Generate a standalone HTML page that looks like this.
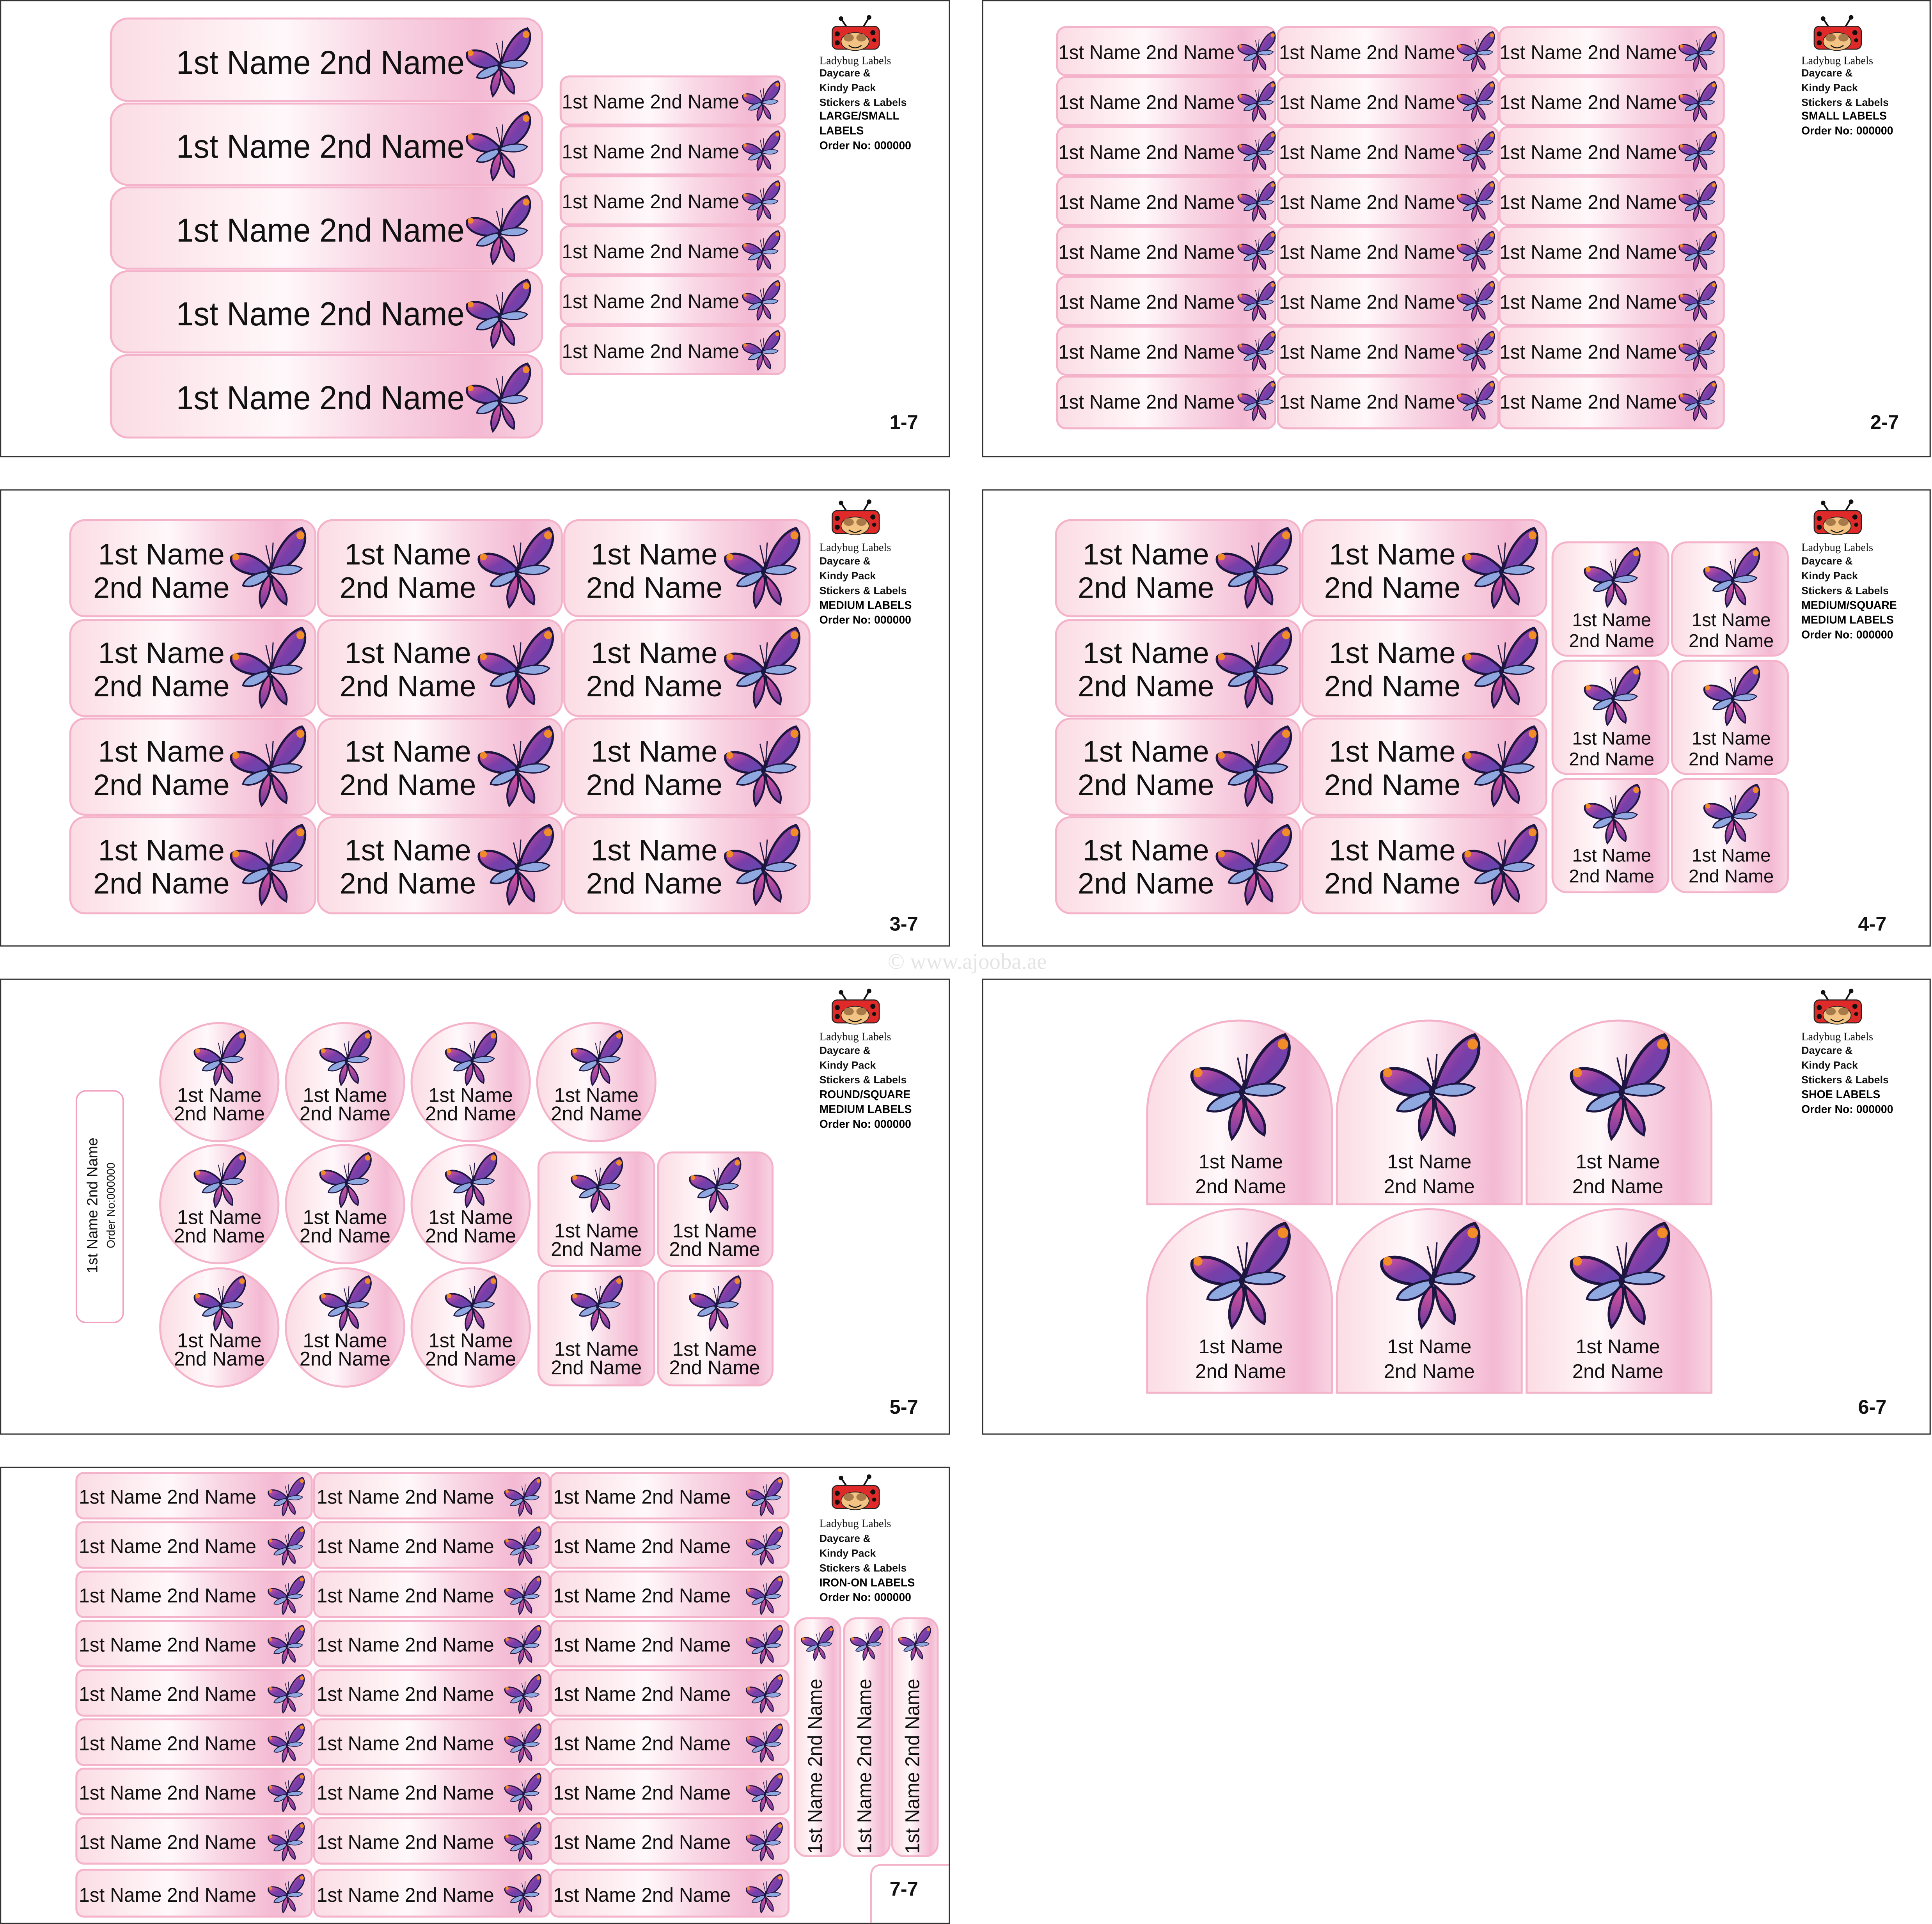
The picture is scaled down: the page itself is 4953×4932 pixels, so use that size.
<!DOCTYPE html>
<html><head><meta charset="utf-8"><style>
html,body{margin:0;padding:0;background:#fff}
svg{display:block}
.n{font-family:"Liberation Sans Narrow","Liberation Sans",sans-serif;fill:#111}
.l{fill:url(#g);stroke:#f4b3ca;stroke-width:1.6}
.lg{font-family:"Liberation Serif",serif;font-size:9px;fill:#111}
.lt{font-family:"Liberation Sans",sans-serif;font-size:8.5px;font-weight:bold;fill:#111}
.lb{font-family:"Liberation Sans",sans-serif;font-size:9px;font-weight:bold;fill:#000}
.pn{font-family:"Liberation Sans",sans-serif;font-size:16px;font-weight:bold;fill:#111}
.p{fill:#fff;stroke:#333;stroke-width:1}
</style></head><body>
<svg width="4953" height="4932" viewBox="0 0 1568 1561" preserveAspectRatio="none" xmlns="http://www.w3.org/2000/svg">
<defs>
<linearGradient id="g" x1="0" y1="0" x2="1" y2="0">
<stop offset="0" stop-color="#fbdce4"/><stop offset="0.4" stop-color="#fff8fa"/><stop offset="0.6" stop-color="#f9d8e5"/><stop offset="0.85" stop-color="#f4b9d3"/><stop offset="1" stop-color="#f8d4e2"/>
</linearGradient>
<linearGradient id="w1" x1="0" y1="0" x2="1" y2="1"><stop offset="0" stop-color="#e0559d"/><stop offset="0.5" stop-color="#7a3ea8"/><stop offset="1" stop-color="#5b4ab2"/></linearGradient>
<linearGradient id="w2" x1="0" y1="0" x2="0" y2="1"><stop offset="0" stop-color="#e0559d"/><stop offset="1" stop-color="#6a3aa0"/></linearGradient>
<symbol id="bf" viewBox="0 0 60 60">
<path d="M33,31 C37,16 46,5 54,3 C59,9 57,24 35,34 Z" fill="url(#w1)" stroke="#1d1640" stroke-width="1.6"/>
<circle cx="53" cy="8" r="2.8" fill="#f28c28"/>
<path d="M31,31 C21,20 9,19 5,23 C3,30 14,37 30,35 Z" fill="url(#w1)" stroke="#1d1640" stroke-width="1.6"/>
<circle cx="8" cy="23" r="2.4" fill="#f28c28"/>
<path d="M32,32 C40,28 50,28 54,31 C50,36 42,36 33,34 Z" fill="#8fa8e0" stroke="#1d1640" stroke-width="0.9"/>
<path d="M30,33 C22,34 14,38 13,43 C20,45 27,41 31,36 Z" fill="#8fa8e0" stroke="#1d1640" stroke-width="1.1"/>
<path d="M31,36 C25,42 23,51 26,58 C31,52 33,44 32,37 Z" fill="url(#w2)" stroke="#1d1640" stroke-width="1.3"/>
<path d="M33,36 C40,42 45,49 43,56 C37,53 34,46 33,37 Z" fill="url(#w2)" stroke="#1d1640" stroke-width="1.3"/>
<path d="M31,37 L33,27" stroke="#1d1640" stroke-width="2"/>
<path d="M32,28 L29,15 M33,28 L34,13" stroke="#1d1640" stroke-width="0.8" fill="none"/>
</symbol>
<symbol id="lb" viewBox="0 0 40 30">
<path d="M14,12 L8,3 M24,12 L30,2" stroke="#111" stroke-width="1.3"/>
<circle cx="8" cy="3" r="1.8" fill="#111"/><circle cx="30" cy="2" r="1.8" fill="#111"/>
<rect x="1" y="9" width="37" height="18" rx="4" fill="#e02a2a" stroke="#222" stroke-width="0.8"/>
<circle cx="5" cy="15" r="2" fill="#111"/><circle cx="5" cy="22" r="2" fill="#111"/><circle cx="33" cy="14" r="2" fill="#111"/><circle cx="34" cy="20" r="1.6" fill="#111"/>
<ellipse cx="19" cy="21" rx="11" ry="7" fill="#f2c383" stroke="#222" stroke-width="0.6"/>
<ellipse cx="14" cy="18" rx="4" ry="3" fill="#a87a4a"/><ellipse cx="24" cy="18" rx="4" ry="3" fill="#a87a4a"/>
<path d="M14,24 Q19,28 24,24" stroke="#111" stroke-width="0.8" fill="none"/>
</symbol>
</defs>
<rect width="1568" height="1561" fill="#fff"/>
<rect class="p" x="0.5" y="0.5" width="770" height="370"/>
<rect class="p" x="797.5" y="0.5" width="769" height="370"/>
<rect class="p" x="0.5" y="397.5" width="770" height="370"/>
<rect class="p" x="797.5" y="397.5" width="769" height="370"/>
<rect class="p" x="0.5" y="794.5" width="770" height="369"/>
<rect class="p" x="797.5" y="794.5" width="769" height="369"/>
<rect class="p" x="0.5" y="1190.5" width="770" height="370"/>
<text x="785" y="786" font-family="Liberation Serif,serif" font-size="18" fill="#e4e4e4" text-anchor="middle">© www.ajooba.ae</text>

<g transform="translate(665,12)"><use href="#lb" x="9" y="0" width="42" height="31"/><text class="lg" y="40">Ladybug Labels</text><text class="lt" y="50">Daycare &amp;</text><text class="lt" y="62">Kindy Pack</text><text class="lt" y="74">Stickers &amp; Labels</text><text class="lb" y="85">LARGE/SMALL</text><text class="lb" y="97">LABELS</text><text class="lb" y="109">Order No: 000000</text></g>
<g transform="translate(1462,12)"><use href="#lb" x="9" y="0" width="42" height="31"/><text class="lg" y="40">Ladybug Labels</text><text class="lt" y="50">Daycare &amp;</text><text class="lt" y="62">Kindy Pack</text><text class="lt" y="74">Stickers &amp; Labels</text><text class="lb" y="85">SMALL LABELS</text><text class="lb" y="97">Order No: 000000</text></g>
<g transform="translate(665,405)"><use href="#lb" x="9" y="0" width="42" height="31"/><text class="lg" y="42">Ladybug Labels</text><text class="lt" y="53">Daycare &amp;</text><text class="lt" y="65">Kindy Pack</text><text class="lt" y="77">Stickers &amp; Labels</text><text class="lb" y="89">MEDIUM LABELS</text><text class="lb" y="101">Order No: 000000</text></g>
<g transform="translate(1462,405)"><use href="#lb" x="9" y="0" width="42" height="31"/><text class="lg" y="42">Ladybug Labels</text><text class="lt" y="53">Daycare &amp;</text><text class="lt" y="65">Kindy Pack</text><text class="lt" y="77">Stickers &amp; Labels</text><text class="lb" y="89">MEDIUM/SQUARE</text><text class="lb" y="101">MEDIUM LABELS</text><text class="lb" y="113">Order No: 000000</text></g>
<g transform="translate(665,802)"><use href="#lb" x="9" y="0" width="42" height="31"/><text class="lg" y="42">Ladybug Labels</text><text class="lt" y="53">Daycare &amp;</text><text class="lt" y="65">Kindy Pack</text><text class="lt" y="77">Stickers &amp; Labels</text><text class="lb" y="89">ROUND/SQUARE</text><text class="lb" y="101">MEDIUM LABELS</text><text class="lb" y="113">Order No: 000000</text></g>
<g transform="translate(1462,802)"><use href="#lb" x="9" y="0" width="42" height="31"/><text class="lg" y="42">Ladybug Labels</text><text class="lt" y="53">Daycare &amp;</text><text class="lt" y="65">Kindy Pack</text><text class="lt" y="77">Stickers &amp; Labels</text><text class="lb" y="89">SHOE LABELS</text><text class="lb" y="101">Order No: 000000</text></g>
<g transform="translate(665,1196)"><use href="#lb" x="9" y="0" width="42" height="31"/><text class="lg" y="43">Ladybug Labels</text><text class="lt" y="55">Daycare &amp;</text><text class="lt" y="67">Kindy Pack</text><text class="lt" y="79">Stickers &amp; Labels</text><text class="lb" y="91">IRON-ON LABELS</text><text class="lb" y="103">Order No: 000000</text></g>

<text class="pn" x="722" y="348">1-7</text><text class="pn" x="1518" y="348">2-7</text>
<text class="pn" x="722" y="755">3-7</text><text class="pn" x="1508" y="755">4-7</text>
<text class="pn" x="722" y="1147">5-7</text><text class="pn" x="1508" y="1147">6-7</text>
<path d="M707,1560 L707,1522 Q707,1513 716,1513 L770,1513" fill="none" stroke="#f4b3ca" stroke-width="1.5"/>
<text class="pn" x="722" y="1538">7-7</text>

<rect class="l" x="90" y="15" width="350" height="67" rx="14"/><text class="n" x="143" y="60" font-size="27" textLength="234" lengthAdjust="spacingAndGlyphs">1st Name 2nd Name</text><use href="#bf" x="374" y="20" width="60" height="60"/>
<rect class="l" x="90" y="84" width="350" height="66" rx="14"/><text class="n" x="143" y="128" font-size="27" textLength="234" lengthAdjust="spacingAndGlyphs">1st Name 2nd Name</text><use href="#bf" x="374" y="88" width="60" height="60"/>
<rect class="l" x="90" y="152" width="350" height="66" rx="14"/><text class="n" x="143" y="196" font-size="27" textLength="234" lengthAdjust="spacingAndGlyphs">1st Name 2nd Name</text><use href="#bf" x="374" y="156" width="60" height="60"/>
<rect class="l" x="90" y="220" width="350" height="66" rx="14"/><text class="n" x="143" y="264" font-size="27" textLength="234" lengthAdjust="spacingAndGlyphs">1st Name 2nd Name</text><use href="#bf" x="374" y="224" width="60" height="60"/>
<rect class="l" x="90" y="288" width="350" height="67" rx="14"/><text class="n" x="143" y="332" font-size="27" textLength="234" lengthAdjust="spacingAndGlyphs">1st Name 2nd Name</text><use href="#bf" x="374" y="292" width="60" height="60"/>

<rect class="l" x="455" y="62" width="182" height="39" rx="7"/><text class="n" x="456" y="88" font-size="16" textLength="144" lengthAdjust="spacingAndGlyphs">1st Name 2nd Name</text><use href="#bf" x="600" y="64" width="35" height="35"/>
<rect class="l" x="455" y="102.5" width="182" height="39" rx="7"/><text class="n" x="456" y="128.5" font-size="16" textLength="144" lengthAdjust="spacingAndGlyphs">1st Name 2nd Name</text><use href="#bf" x="600" y="104.5" width="35" height="35"/>
<rect class="l" x="455" y="143" width="182" height="39" rx="7"/><text class="n" x="456" y="169" font-size="16" textLength="144" lengthAdjust="spacingAndGlyphs">1st Name 2nd Name</text><use href="#bf" x="600" y="145" width="35" height="35"/>
<rect class="l" x="455" y="183.5" width="182" height="39" rx="7"/><text class="n" x="456" y="209.5" font-size="16" textLength="144" lengthAdjust="spacingAndGlyphs">1st Name 2nd Name</text><use href="#bf" x="600" y="185.5" width="35" height="35"/>
<rect class="l" x="455" y="224" width="182" height="39" rx="7"/><text class="n" x="456" y="250" font-size="16" textLength="144" lengthAdjust="spacingAndGlyphs">1st Name 2nd Name</text><use href="#bf" x="600" y="226" width="35" height="35"/>
<rect class="l" x="455" y="264.5" width="182" height="39" rx="7"/><text class="n" x="456" y="290.5" font-size="16" textLength="144" lengthAdjust="spacingAndGlyphs">1st Name 2nd Name</text><use href="#bf" x="600" y="266.5" width="35" height="35"/>

<rect class="l" x="858" y="22" width="177" height="39" rx="7"/><text class="n" x="859" y="48" font-size="16" textLength="143" lengthAdjust="spacingAndGlyphs">1st Name 2nd Name</text><use href="#bf" x="1002" y="24" width="35" height="35"/>
<rect class="l" x="1037" y="22" width="179" height="39" rx="7"/><text class="n" x="1038" y="48" font-size="16" textLength="143" lengthAdjust="spacingAndGlyphs">1st Name 2nd Name</text><use href="#bf" x="1180" y="24" width="35" height="35"/>
<rect class="l" x="1217" y="22" width="182" height="39" rx="7"/><text class="n" x="1217" y="48" font-size="16" textLength="144" lengthAdjust="spacingAndGlyphs">1st Name 2nd Name</text><use href="#bf" x="1360" y="24" width="35" height="35"/>
<rect class="l" x="858" y="62.5" width="177" height="39" rx="7"/><text class="n" x="859" y="88.5" font-size="16" textLength="143" lengthAdjust="spacingAndGlyphs">1st Name 2nd Name</text><use href="#bf" x="1002" y="64.5" width="35" height="35"/>
<rect class="l" x="1037" y="62.5" width="179" height="39" rx="7"/><text class="n" x="1038" y="88.5" font-size="16" textLength="143" lengthAdjust="spacingAndGlyphs">1st Name 2nd Name</text><use href="#bf" x="1180" y="64.5" width="35" height="35"/>
<rect class="l" x="1217" y="62.5" width="182" height="39" rx="7"/><text class="n" x="1217" y="88.5" font-size="16" textLength="144" lengthAdjust="spacingAndGlyphs">1st Name 2nd Name</text><use href="#bf" x="1360" y="64.5" width="35" height="35"/>
<rect class="l" x="858" y="103" width="177" height="39" rx="7"/><text class="n" x="859" y="129" font-size="16" textLength="143" lengthAdjust="spacingAndGlyphs">1st Name 2nd Name</text><use href="#bf" x="1002" y="105" width="35" height="35"/>
<rect class="l" x="1037" y="103" width="179" height="39" rx="7"/><text class="n" x="1038" y="129" font-size="16" textLength="143" lengthAdjust="spacingAndGlyphs">1st Name 2nd Name</text><use href="#bf" x="1180" y="105" width="35" height="35"/>
<rect class="l" x="1217" y="103" width="182" height="39" rx="7"/><text class="n" x="1217" y="129" font-size="16" textLength="144" lengthAdjust="spacingAndGlyphs">1st Name 2nd Name</text><use href="#bf" x="1360" y="105" width="35" height="35"/>
<rect class="l" x="858" y="143.5" width="177" height="39" rx="7"/><text class="n" x="859" y="169.5" font-size="16" textLength="143" lengthAdjust="spacingAndGlyphs">1st Name 2nd Name</text><use href="#bf" x="1002" y="145.5" width="35" height="35"/>
<rect class="l" x="1037" y="143.5" width="179" height="39" rx="7"/><text class="n" x="1038" y="169.5" font-size="16" textLength="143" lengthAdjust="spacingAndGlyphs">1st Name 2nd Name</text><use href="#bf" x="1180" y="145.5" width="35" height="35"/>
<rect class="l" x="1217" y="143.5" width="182" height="39" rx="7"/><text class="n" x="1217" y="169.5" font-size="16" textLength="144" lengthAdjust="spacingAndGlyphs">1st Name 2nd Name</text><use href="#bf" x="1360" y="145.5" width="35" height="35"/>
<rect class="l" x="858" y="184" width="177" height="39" rx="7"/><text class="n" x="859" y="210" font-size="16" textLength="143" lengthAdjust="spacingAndGlyphs">1st Name 2nd Name</text><use href="#bf" x="1002" y="186" width="35" height="35"/>
<rect class="l" x="1037" y="184" width="179" height="39" rx="7"/><text class="n" x="1038" y="210" font-size="16" textLength="143" lengthAdjust="spacingAndGlyphs">1st Name 2nd Name</text><use href="#bf" x="1180" y="186" width="35" height="35"/>
<rect class="l" x="1217" y="184" width="182" height="39" rx="7"/><text class="n" x="1217" y="210" font-size="16" textLength="144" lengthAdjust="spacingAndGlyphs">1st Name 2nd Name</text><use href="#bf" x="1360" y="186" width="35" height="35"/>
<rect class="l" x="858" y="224.5" width="177" height="39" rx="7"/><text class="n" x="859" y="250.5" font-size="16" textLength="143" lengthAdjust="spacingAndGlyphs">1st Name 2nd Name</text><use href="#bf" x="1002" y="226.5" width="35" height="35"/>
<rect class="l" x="1037" y="224.5" width="179" height="39" rx="7"/><text class="n" x="1038" y="250.5" font-size="16" textLength="143" lengthAdjust="spacingAndGlyphs">1st Name 2nd Name</text><use href="#bf" x="1180" y="226.5" width="35" height="35"/>
<rect class="l" x="1217" y="224.5" width="182" height="39" rx="7"/><text class="n" x="1217" y="250.5" font-size="16" textLength="144" lengthAdjust="spacingAndGlyphs">1st Name 2nd Name</text><use href="#bf" x="1360" y="226.5" width="35" height="35"/>
<rect class="l" x="858" y="265" width="177" height="39" rx="7"/><text class="n" x="859" y="291" font-size="16" textLength="143" lengthAdjust="spacingAndGlyphs">1st Name 2nd Name</text><use href="#bf" x="1002" y="267" width="35" height="35"/>
<rect class="l" x="1037" y="265" width="179" height="39" rx="7"/><text class="n" x="1038" y="291" font-size="16" textLength="143" lengthAdjust="spacingAndGlyphs">1st Name 2nd Name</text><use href="#bf" x="1180" y="267" width="35" height="35"/>
<rect class="l" x="1217" y="265" width="182" height="39" rx="7"/><text class="n" x="1217" y="291" font-size="16" textLength="144" lengthAdjust="spacingAndGlyphs">1st Name 2nd Name</text><use href="#bf" x="1360" y="267" width="35" height="35"/>
<rect class="l" x="858" y="305.5" width="177" height="42" rx="7"/><text class="n" x="859" y="331.5" font-size="16" textLength="143" lengthAdjust="spacingAndGlyphs">1st Name 2nd Name</text><use href="#bf" x="1002" y="307.5" width="35" height="35"/>
<rect class="l" x="1037" y="305.5" width="179" height="42" rx="7"/><text class="n" x="1038" y="331.5" font-size="16" textLength="143" lengthAdjust="spacingAndGlyphs">1st Name 2nd Name</text><use href="#bf" x="1180" y="307.5" width="35" height="35"/>
<rect class="l" x="1217" y="305.5" width="182" height="42" rx="7"/><text class="n" x="1217" y="331.5" font-size="16" textLength="144" lengthAdjust="spacingAndGlyphs">1st Name 2nd Name</text><use href="#bf" x="1360" y="307.5" width="35" height="35"/>

<g text-anchor="middle">
<rect class="l" x="57" y="422" width="199" height="78" rx="12"/><text class="n" x="131" y="458" font-size="24">1st Name</text><text class="n" x="131" y="485" font-size="24">2nd Name</text><use href="#bf" x="182" y="425" width="70" height="70"/>
<rect class="l" x="258" y="422" width="198" height="78" rx="12"/><text class="n" x="331" y="458" font-size="24">1st Name</text><text class="n" x="331" y="485" font-size="24">2nd Name</text><use href="#bf" x="383" y="425" width="70" height="70"/>
<rect class="l" x="458" y="422" width="199" height="78" rx="12"/><text class="n" x="531" y="458" font-size="24">1st Name</text><text class="n" x="531" y="485" font-size="24">2nd Name</text><use href="#bf" x="583" y="425" width="70" height="70"/>
<rect class="l" x="57" y="503" width="199" height="78" rx="12"/><text class="n" x="131" y="538" font-size="24">1st Name</text><text class="n" x="131" y="565" font-size="24">2nd Name</text><use href="#bf" x="182" y="506" width="70" height="70"/>
<rect class="l" x="258" y="503" width="198" height="78" rx="12"/><text class="n" x="331" y="538" font-size="24">1st Name</text><text class="n" x="331" y="565" font-size="24">2nd Name</text><use href="#bf" x="383" y="506" width="70" height="70"/>
<rect class="l" x="458" y="503" width="199" height="78" rx="12"/><text class="n" x="531" y="538" font-size="24">1st Name</text><text class="n" x="531" y="565" font-size="24">2nd Name</text><use href="#bf" x="583" y="506" width="70" height="70"/>
<rect class="l" x="57" y="583" width="199" height="78" rx="12"/><text class="n" x="131" y="618" font-size="24">1st Name</text><text class="n" x="131" y="645" font-size="24">2nd Name</text><use href="#bf" x="182" y="586" width="70" height="70"/>
<rect class="l" x="258" y="583" width="198" height="78" rx="12"/><text class="n" x="331" y="618" font-size="24">1st Name</text><text class="n" x="331" y="645" font-size="24">2nd Name</text><use href="#bf" x="383" y="586" width="70" height="70"/>
<rect class="l" x="458" y="583" width="199" height="78" rx="12"/><text class="n" x="531" y="618" font-size="24">1st Name</text><text class="n" x="531" y="645" font-size="24">2nd Name</text><use href="#bf" x="583" y="586" width="70" height="70"/>
<rect class="l" x="57" y="663" width="199" height="78" rx="12"/><text class="n" x="131" y="698" font-size="24">1st Name</text><text class="n" x="131" y="725" font-size="24">2nd Name</text><use href="#bf" x="182" y="666" width="70" height="70"/>
<rect class="l" x="258" y="663" width="198" height="78" rx="12"/><text class="n" x="331" y="698" font-size="24">1st Name</text><text class="n" x="331" y="725" font-size="24">2nd Name</text><use href="#bf" x="383" y="666" width="70" height="70"/>
<rect class="l" x="458" y="663" width="199" height="78" rx="12"/><text class="n" x="531" y="698" font-size="24">1st Name</text><text class="n" x="531" y="725" font-size="24">2nd Name</text><use href="#bf" x="583" y="666" width="70" height="70"/>

<rect class="l" x="857" y="422" width="198" height="78" rx="12"/><text class="n" x="930" y="458" font-size="24">1st Name</text><text class="n" x="930" y="485" font-size="24">2nd Name</text><use href="#bf" x="982" y="425" width="70" height="70"/>
<rect class="l" x="1057" y="422" width="198" height="78" rx="12"/><text class="n" x="1130" y="458" font-size="24">1st Name</text><text class="n" x="1130" y="485" font-size="24">2nd Name</text><use href="#bf" x="1182" y="425" width="70" height="70"/>
<rect class="l" x="857" y="503" width="198" height="78" rx="12"/><text class="n" x="930" y="538" font-size="24">1st Name</text><text class="n" x="930" y="565" font-size="24">2nd Name</text><use href="#bf" x="982" y="506" width="70" height="70"/>
<rect class="l" x="1057" y="503" width="198" height="78" rx="12"/><text class="n" x="1130" y="538" font-size="24">1st Name</text><text class="n" x="1130" y="565" font-size="24">2nd Name</text><use href="#bf" x="1182" y="506" width="70" height="70"/>
<rect class="l" x="857" y="583" width="198" height="78" rx="12"/><text class="n" x="930" y="618" font-size="24">1st Name</text><text class="n" x="930" y="645" font-size="24">2nd Name</text><use href="#bf" x="982" y="586" width="70" height="70"/>
<rect class="l" x="1057" y="583" width="198" height="78" rx="12"/><text class="n" x="1130" y="618" font-size="24">1st Name</text><text class="n" x="1130" y="645" font-size="24">2nd Name</text><use href="#bf" x="1182" y="586" width="70" height="70"/>
<rect class="l" x="857" y="663" width="198" height="78" rx="12"/><text class="n" x="930" y="698" font-size="24">1st Name</text><text class="n" x="930" y="725" font-size="24">2nd Name</text><use href="#bf" x="982" y="666" width="70" height="70"/>
<rect class="l" x="1057" y="663" width="198" height="78" rx="12"/><text class="n" x="1130" y="698" font-size="24">1st Name</text><text class="n" x="1130" y="725" font-size="24">2nd Name</text><use href="#bf" x="1182" y="666" width="70" height="70"/>

<rect class="l" x="1260" y="440" width="94" height="92" rx="12"/><use href="#bf" x="1282" y="442" width="52" height="52"/><text class="n" x="1308" y="508" font-size="15">1st Name</text><text class="n" x="1308" y="525" font-size="15">2nd Name</text>
<rect class="l" x="1357" y="440" width="94" height="92" rx="12"/><use href="#bf" x="1379" y="442" width="52" height="52"/><text class="n" x="1405" y="508" font-size="15">1st Name</text><text class="n" x="1405" y="525" font-size="15">2nd Name</text>
<rect class="l" x="1260" y="536" width="94" height="92" rx="12"/><use href="#bf" x="1282" y="538" width="52" height="52"/><text class="n" x="1308" y="604" font-size="15">1st Name</text><text class="n" x="1308" y="621" font-size="15">2nd Name</text>
<rect class="l" x="1357" y="536" width="94" height="92" rx="12"/><use href="#bf" x="1379" y="538" width="52" height="52"/><text class="n" x="1405" y="604" font-size="15">1st Name</text><text class="n" x="1405" y="621" font-size="15">2nd Name</text>
<rect class="l" x="1260" y="632" width="94" height="92" rx="12"/><use href="#bf" x="1282" y="634" width="52" height="52"/><text class="n" x="1308" y="699" font-size="15">1st Name</text><text class="n" x="1308" y="716" font-size="15">2nd Name</text>
<rect class="l" x="1357" y="632" width="94" height="92" rx="12"/><use href="#bf" x="1379" y="634" width="52" height="52"/><text class="n" x="1405" y="699" font-size="15">1st Name</text><text class="n" x="1405" y="716" font-size="15">2nd Name</text>

<circle class="l" cx="178" cy="878" r="48"/><use href="#bf" x="154" y="834" width="48" height="48"/><text class="n" x="178" y="894" font-size="16">1st Name</text><text class="n" x="178" y="909" font-size="16">2nd Name</text>
<circle class="l" cx="280" cy="878" r="48"/><use href="#bf" x="256" y="834" width="48" height="48"/><text class="n" x="280" y="894" font-size="16">1st Name</text><text class="n" x="280" y="909" font-size="16">2nd Name</text>
<circle class="l" cx="382" cy="878" r="48"/><use href="#bf" x="358" y="834" width="48" height="48"/><text class="n" x="382" y="894" font-size="16">1st Name</text><text class="n" x="382" y="909" font-size="16">2nd Name</text>
<circle class="l" cx="484" cy="878" r="48"/><use href="#bf" x="460" y="834" width="48" height="48"/><text class="n" x="484" y="894" font-size="16">1st Name</text><text class="n" x="484" y="909" font-size="16">2nd Name</text>
<circle class="l" cx="178" cy="977" r="48"/><use href="#bf" x="154" y="933" width="48" height="48"/><text class="n" x="178" y="993" font-size="16">1st Name</text><text class="n" x="178" y="1008" font-size="16">2nd Name</text>
<circle class="l" cx="280" cy="977" r="48"/><use href="#bf" x="256" y="933" width="48" height="48"/><text class="n" x="280" y="993" font-size="16">1st Name</text><text class="n" x="280" y="1008" font-size="16">2nd Name</text>
<circle class="l" cx="382" cy="977" r="48"/><use href="#bf" x="358" y="933" width="48" height="48"/><text class="n" x="382" y="993" font-size="16">1st Name</text><text class="n" x="382" y="1008" font-size="16">2nd Name</text>
<circle class="l" cx="178" cy="1077" r="48"/><use href="#bf" x="154" y="1033" width="48" height="48"/><text class="n" x="178" y="1093" font-size="16">1st Name</text><text class="n" x="178" y="1108" font-size="16">2nd Name</text>
<circle class="l" cx="280" cy="1077" r="48"/><use href="#bf" x="256" y="1033" width="48" height="48"/><text class="n" x="280" y="1093" font-size="16">1st Name</text><text class="n" x="280" y="1108" font-size="16">2nd Name</text>
<circle class="l" cx="382" cy="1077" r="48"/><use href="#bf" x="358" y="1033" width="48" height="48"/><text class="n" x="382" y="1093" font-size="16">1st Name</text><text class="n" x="382" y="1108" font-size="16">2nd Name</text>
<rect class="l" x="437" y="935" width="94" height="92" rx="12"/><use href="#bf" x="460" y="937" width="48" height="48"/><text class="n" x="484" y="1004" font-size="16">1st Name</text><text class="n" x="484" y="1019" font-size="16">2nd Name</text>
<rect class="l" x="534" y="935" width="93" height="92" rx="12"/><use href="#bf" x="556" y="937" width="48" height="48"/><text class="n" x="580" y="1004" font-size="16">1st Name</text><text class="n" x="580" y="1019" font-size="16">2nd Name</text>
<rect class="l" x="437" y="1031" width="94" height="93" rx="12"/><use href="#bf" x="460" y="1033" width="48" height="48"/><text class="n" x="484" y="1100" font-size="16">1st Name</text><text class="n" x="484" y="1115" font-size="16">2nd Name</text>
<rect class="l" x="534" y="1031" width="93" height="93" rx="12"/><use href="#bf" x="556" y="1033" width="48" height="48"/><text class="n" x="580" y="1100" font-size="16">1st Name</text><text class="n" x="580" y="1115" font-size="16">2nd Name</text>
<rect x="62" y="885" width="38" height="188" rx="8" fill="#fff" stroke="#f2a0c0" stroke-width="1.2"/>
<text class="n" transform="translate(79,978) rotate(-90)" font-size="12">1st Name 2nd Name</text>
<text class="n" transform="translate(93,978) rotate(-90)" font-size="9">Order No:000000</text>

<path class="l" d="M931,977 L931,903 A75,75 0 0 1 1081,903 L1081,977 Z"/><use href="#bf" x="960" y="835" width="92" height="92"/><text class="n" x="1007" y="948" font-size="16">1st Name</text><text class="n" x="1007" y="968" font-size="16">2nd Name</text>
<path class="l" d="M1085,977 L1085,903 A75,75 0 0 1 1235,903 L1235,977 Z"/><use href="#bf" x="1114" y="835" width="92" height="92"/><text class="n" x="1160" y="948" font-size="16">1st Name</text><text class="n" x="1160" y="968" font-size="16">2nd Name</text>
<path class="l" d="M1239,977 L1239,903 A75,75 0 0 1 1389,903 L1389,977 Z"/><use href="#bf" x="1268" y="835" width="92" height="92"/><text class="n" x="1313" y="948" font-size="16">1st Name</text><text class="n" x="1313" y="968" font-size="16">2nd Name</text>
<path class="l" d="M931,1130 L931,1056 A75,75 0 0 1 1081,1056 L1081,1130 Z"/><use href="#bf" x="960" y="988" width="92" height="92"/><text class="n" x="1007" y="1098" font-size="16">1st Name</text><text class="n" x="1007" y="1118" font-size="16">2nd Name</text>
<path class="l" d="M1085,1130 L1085,1056 A75,75 0 0 1 1235,1056 L1235,1130 Z"/><use href="#bf" x="1114" y="988" width="92" height="92"/><text class="n" x="1160" y="1098" font-size="16">1st Name</text><text class="n" x="1160" y="1118" font-size="16">2nd Name</text>
<path class="l" d="M1239,1130 L1239,1056 A75,75 0 0 1 1389,1056 L1389,1130 Z"/><use href="#bf" x="1268" y="988" width="92" height="92"/><text class="n" x="1313" y="1098" font-size="16">1st Name</text><text class="n" x="1313" y="1118" font-size="16">2nd Name</text>
</g>

<rect class="l" x="62" y="1195" width="191" height="37" rx="6"/><text class="n" x="64" y="1220" font-size="16" textLength="144" lengthAdjust="spacingAndGlyphs">1st Name 2nd Name</text><use href="#bf" x="215" y="1197" width="34" height="34"/>
<rect class="l" x="255" y="1195" width="191" height="37" rx="6"/><text class="n" x="257" y="1220" font-size="16" textLength="144" lengthAdjust="spacingAndGlyphs">1st Name 2nd Name</text><use href="#bf" x="407" y="1197" width="34" height="34"/>
<rect class="l" x="447" y="1195" width="193" height="37" rx="6"/><text class="n" x="449" y="1220" font-size="16" textLength="144" lengthAdjust="spacingAndGlyphs">1st Name 2nd Name</text><use href="#bf" x="603" y="1197" width="34" height="34"/>
<rect class="l" x="62" y="1235" width="191" height="37" rx="6"/><text class="n" x="64" y="1260" font-size="16" textLength="144" lengthAdjust="spacingAndGlyphs">1st Name 2nd Name</text><use href="#bf" x="215" y="1237" width="34" height="34"/>
<rect class="l" x="255" y="1235" width="191" height="37" rx="6"/><text class="n" x="257" y="1260" font-size="16" textLength="144" lengthAdjust="spacingAndGlyphs">1st Name 2nd Name</text><use href="#bf" x="407" y="1237" width="34" height="34"/>
<rect class="l" x="447" y="1235" width="193" height="37" rx="6"/><text class="n" x="449" y="1260" font-size="16" textLength="144" lengthAdjust="spacingAndGlyphs">1st Name 2nd Name</text><use href="#bf" x="603" y="1237" width="34" height="34"/>
<rect class="l" x="62" y="1275" width="191" height="37" rx="6"/><text class="n" x="64" y="1300" font-size="16" textLength="144" lengthAdjust="spacingAndGlyphs">1st Name 2nd Name</text><use href="#bf" x="215" y="1277" width="34" height="34"/>
<rect class="l" x="255" y="1275" width="191" height="37" rx="6"/><text class="n" x="257" y="1300" font-size="16" textLength="144" lengthAdjust="spacingAndGlyphs">1st Name 2nd Name</text><use href="#bf" x="407" y="1277" width="34" height="34"/>
<rect class="l" x="447" y="1275" width="193" height="37" rx="6"/><text class="n" x="449" y="1300" font-size="16" textLength="144" lengthAdjust="spacingAndGlyphs">1st Name 2nd Name</text><use href="#bf" x="603" y="1277" width="34" height="34"/>
<rect class="l" x="62" y="1315" width="191" height="37" rx="6"/><text class="n" x="64" y="1340" font-size="16" textLength="144" lengthAdjust="spacingAndGlyphs">1st Name 2nd Name</text><use href="#bf" x="215" y="1317" width="34" height="34"/>
<rect class="l" x="255" y="1315" width="191" height="37" rx="6"/><text class="n" x="257" y="1340" font-size="16" textLength="144" lengthAdjust="spacingAndGlyphs">1st Name 2nd Name</text><use href="#bf" x="407" y="1317" width="34" height="34"/>
<rect class="l" x="447" y="1315" width="193" height="37" rx="6"/><text class="n" x="449" y="1340" font-size="16" textLength="144" lengthAdjust="spacingAndGlyphs">1st Name 2nd Name</text><use href="#bf" x="603" y="1317" width="34" height="34"/>
<rect class="l" x="62" y="1355" width="191" height="37" rx="6"/><text class="n" x="64" y="1380" font-size="16" textLength="144" lengthAdjust="spacingAndGlyphs">1st Name 2nd Name</text><use href="#bf" x="215" y="1357" width="34" height="34"/>
<rect class="l" x="255" y="1355" width="191" height="37" rx="6"/><text class="n" x="257" y="1380" font-size="16" textLength="144" lengthAdjust="spacingAndGlyphs">1st Name 2nd Name</text><use href="#bf" x="407" y="1357" width="34" height="34"/>
<rect class="l" x="447" y="1355" width="193" height="37" rx="6"/><text class="n" x="449" y="1380" font-size="16" textLength="144" lengthAdjust="spacingAndGlyphs">1st Name 2nd Name</text><use href="#bf" x="603" y="1357" width="34" height="34"/>
<rect class="l" x="62" y="1395" width="191" height="37" rx="6"/><text class="n" x="64" y="1420" font-size="16" textLength="144" lengthAdjust="spacingAndGlyphs">1st Name 2nd Name</text><use href="#bf" x="215" y="1397" width="34" height="34"/>
<rect class="l" x="255" y="1395" width="191" height="37" rx="6"/><text class="n" x="257" y="1420" font-size="16" textLength="144" lengthAdjust="spacingAndGlyphs">1st Name 2nd Name</text><use href="#bf" x="407" y="1397" width="34" height="34"/>
<rect class="l" x="447" y="1395" width="193" height="37" rx="6"/><text class="n" x="449" y="1420" font-size="16" textLength="144" lengthAdjust="spacingAndGlyphs">1st Name 2nd Name</text><use href="#bf" x="603" y="1397" width="34" height="34"/>
<rect class="l" x="62" y="1435" width="191" height="37" rx="6"/><text class="n" x="64" y="1460" font-size="16" textLength="144" lengthAdjust="spacingAndGlyphs">1st Name 2nd Name</text><use href="#bf" x="215" y="1437" width="34" height="34"/>
<rect class="l" x="255" y="1435" width="191" height="37" rx="6"/><text class="n" x="257" y="1460" font-size="16" textLength="144" lengthAdjust="spacingAndGlyphs">1st Name 2nd Name</text><use href="#bf" x="407" y="1437" width="34" height="34"/>
<rect class="l" x="447" y="1435" width="193" height="37" rx="6"/><text class="n" x="449" y="1460" font-size="16" textLength="144" lengthAdjust="spacingAndGlyphs">1st Name 2nd Name</text><use href="#bf" x="603" y="1437" width="34" height="34"/>
<rect class="l" x="62" y="1475" width="191" height="37" rx="6"/><text class="n" x="64" y="1500" font-size="16" textLength="144" lengthAdjust="spacingAndGlyphs">1st Name 2nd Name</text><use href="#bf" x="215" y="1477" width="34" height="34"/>
<rect class="l" x="255" y="1475" width="191" height="37" rx="6"/><text class="n" x="257" y="1500" font-size="16" textLength="144" lengthAdjust="spacingAndGlyphs">1st Name 2nd Name</text><use href="#bf" x="407" y="1477" width="34" height="34"/>
<rect class="l" x="447" y="1475" width="193" height="37" rx="6"/><text class="n" x="449" y="1500" font-size="16" textLength="144" lengthAdjust="spacingAndGlyphs">1st Name 2nd Name</text><use href="#bf" x="603" y="1477" width="34" height="34"/>
<rect class="l" x="62" y="1517" width="191" height="38" rx="6"/><text class="n" x="64" y="1543" font-size="16" textLength="144" lengthAdjust="spacingAndGlyphs">1st Name 2nd Name</text><use href="#bf" x="215" y="1519" width="34" height="34"/>
<rect class="l" x="255" y="1517" width="191" height="38" rx="6"/><text class="n" x="257" y="1543" font-size="16" textLength="144" lengthAdjust="spacingAndGlyphs">1st Name 2nd Name</text><use href="#bf" x="407" y="1519" width="34" height="34"/>
<rect class="l" x="447" y="1517" width="193" height="38" rx="6"/><text class="n" x="449" y="1543" font-size="16" textLength="144" lengthAdjust="spacingAndGlyphs">1st Name 2nd Name</text><use href="#bf" x="603" y="1519" width="34" height="34"/>

<rect class="l" x="645" y="1313" width="37" height="193" rx="10"/><use href="#bf" x="648" y="1318" width="30" height="30"/><text class="n" transform="translate(667,1504) rotate(-90)" font-size="16" textLength="142" lengthAdjust="spacingAndGlyphs">1st Name 2nd Name</text>
<rect class="l" x="685" y="1313" width="37" height="193" rx="10"/><use href="#bf" x="688" y="1318" width="30" height="30"/><text class="n" transform="translate(707,1504) rotate(-90)" font-size="16" textLength="142" lengthAdjust="spacingAndGlyphs">1st Name 2nd Name</text>
<rect class="l" x="724" y="1313" width="37" height="193" rx="10"/><use href="#bf" x="727" y="1318" width="30" height="30"/><text class="n" transform="translate(746,1504) rotate(-90)" font-size="16" textLength="142" lengthAdjust="spacingAndGlyphs">1st Name 2nd Name</text>
</svg>
</body></html>
